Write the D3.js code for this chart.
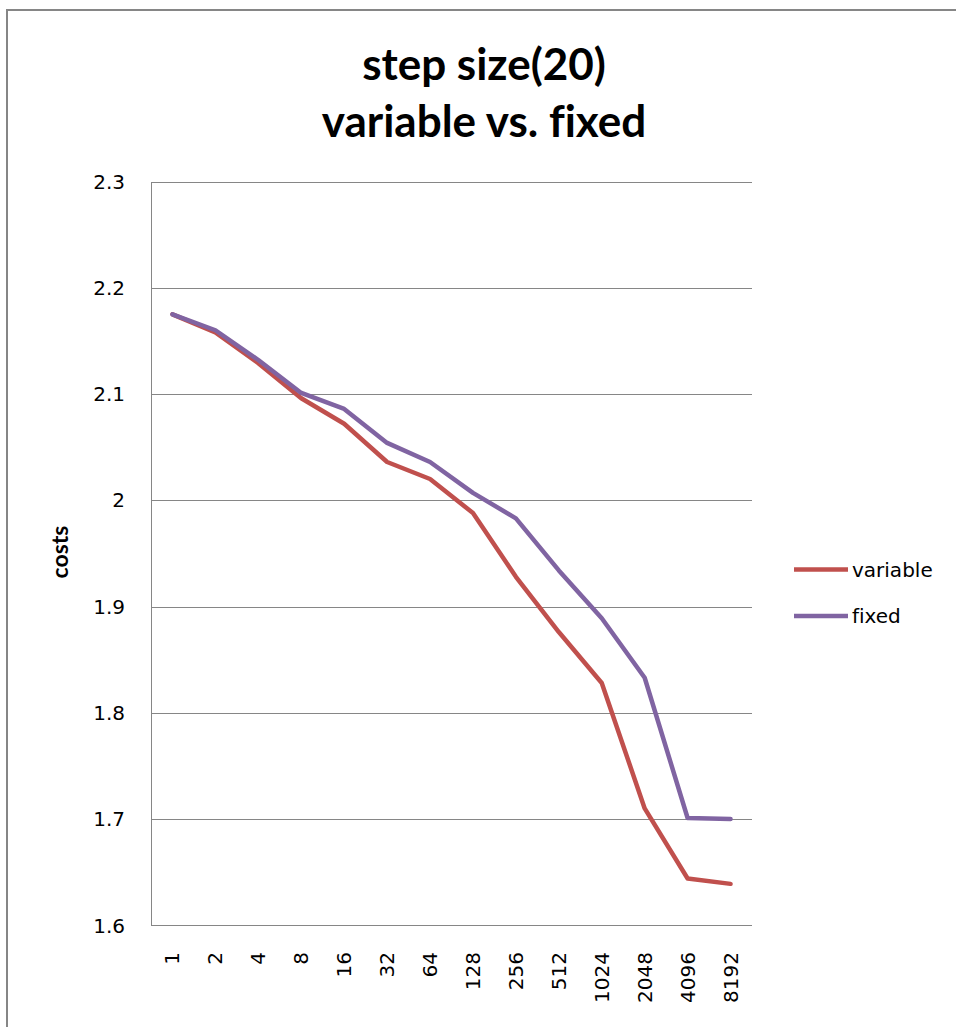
<!DOCTYPE html>
<html>
<head>
<meta charset="utf-8">
<script src="https://cdn.jsdelivr.net/npm/d3@7"></script>
<style>
  html, body { margin: 0; padding: 0; background: #fff; }
  svg { display: block; }
  text { font-variant-ligatures: none; }
</style>
</head>
<body>
<script>
const categories = ["1","2","4","8","16","32","64","128","256","512","1024","2048","4096","8192"];
const variableValues = [2.175, 2.158, 2.129, 2.096, 2.072, 2.036, 2.020, 1.988, 1.928, 1.876, 1.828, 1.710, 1.644, 1.639];
const fixedValues    = [2.175, 2.160, 2.132, 2.101, 2.086, 2.054, 2.036, 2.007, 1.983, 1.934, 1.889, 1.833, 1.701, 1.700];
const yTicks = [1.6, 1.7, 1.8, 1.9, 2.0, 2.1, 2.2, 2.3];
const seriesNames = ["variable", "fixed"];
const seriesColors = ["#C0504D", "#8064A2"];
const titleLines = ["step size(20)", "variable vs. fixed"];
const yAxisTitle = "costs";

(function () {
const W = 956, H = 1027;
const svg = d3.select("body").append("svg").attr("width", W).attr("height", H);

// frame
svg.append("rect").attr("x", 7).attr("y", 10).attr("width", 1100).attr("height", 1100)
  .attr("fill", "none").attr("stroke", "#868686").attr("stroke-width", 2);

const pLeft = 151, pRight = 752, pTop = 181.5, pBottom = 925.3;
const x = d3.scaleBand().domain(categories).range([pLeft, pRight]);
const y = d3.scaleLinear().domain([1.6, 2.3]).range([pBottom, pTop]);

// gridlines
svg.append("g").selectAll("line").data(yTicks).join("line")
  .attr("x1", pLeft).attr("x2", pRight)
  .attr("y1", d => Math.round(y(d)) + 0.5).attr("y2", d => Math.round(y(d)) + 0.5)
  .attr("stroke", "#868686").attr("stroke-width", 1);

// y axis line
svg.append("line").attr("x1", pLeft + 0.5).attr("x2", pLeft + 0.5)
  .attr("y1", Math.round(pTop) + 0.5).attr("y2", Math.round(pBottom) + 0.5)
  .attr("stroke", "#868686").attr("stroke-width", 1);

// y tick labels
svg.append("g").selectAll("text").data(yTicks).join("text")
  .attr("x", 125).attr("y", d => y(d)).attr("dy", "0.36em")
  .attr("text-anchor", "end")
  .attr("font-family", "DejaVu Sans").attr("font-size", 20).attr("fill", "#000")
  .text(d => String(+d.toFixed(1)));

// x tick labels (rotated)
svg.append("g").selectAll("text").data(categories).join("text")
  .attr("transform", d => `translate(${x(d) + x.bandwidth() / 2 + 7},952) rotate(-90)`)
  .attr("text-anchor", "end")
  .attr("font-family", "DejaVu Sans").attr("font-size", 20).attr("fill", "#000")
  .text(d => d);

// lines
const line = d3.line()
  .x((d, i) => x(categories[i]) + x.bandwidth() / 2)
  .y(d => y(d));
[variableValues, fixedValues].forEach((vals, k) => {
  svg.append("path").datum(vals)
    .attr("d", line)
    .attr("fill", "none")
    .attr("stroke", seriesColors[k])
    .attr("stroke-width", 4.5)
    .attr("stroke-linejoin", "round")
    .attr("stroke-linecap", "round");
});

// legend
const legendY = [569.5, 616];
seriesNames.forEach((name, k) => {
  svg.append("line").attr("x1", 794).attr("x2", 848)
    .attr("y1", legendY[k]).attr("y2", legendY[k])
    .attr("stroke", seriesColors[k]).attr("stroke-width", 4.5);
  svg.append("text").attr("x", 852).attr("y", legendY[k]).attr("dy", "0.36em")
    .attr("font-family", "DejaVu Sans").attr("font-size", 20).attr("fill", "#000")
    .text(name);
});

// y axis title
svg.append("text")
  .attr("transform", "translate(68,552) rotate(-90)")
  .attr("text-anchor", "middle")
  .attr("font-family", "Lato").attr("font-weight", "bold").attr("font-size", 23)
  .text(yAxisTitle);

// title
const tBaselines = [80, 137];
titleLines.forEach((t, i) => {
  svg.append("text").attr("x", 484).attr("y", tBaselines[i])
    .attr("text-anchor", "middle")
    .attr("font-family", "Lato").attr("font-weight", "bold").attr("font-size", 44)
    .attr("fill", "#000")
    .text(t);
});
})();
</script>
</body>
</html>
